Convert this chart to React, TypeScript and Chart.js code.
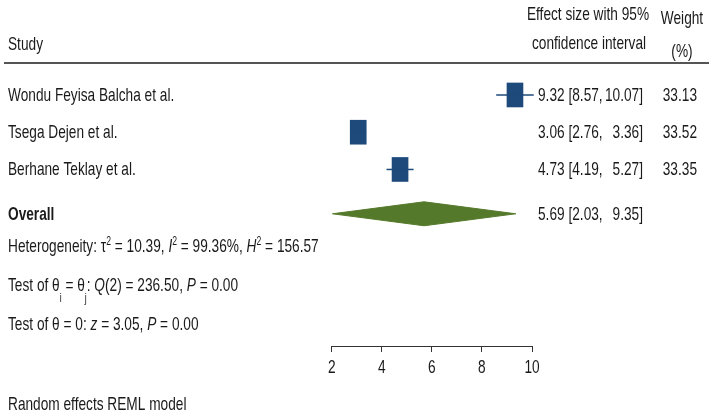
import { useEffect, useRef } from "react";
import { Chart, registerables } from "chart.js";

Chart.register(...registerables);

// ---- data ----
const studyLabels = ["Wondu Feyisa Balcha et al.", "Tsega Dejen et al.", "Berhane Teklay et al."];
const effectSizes = [9.32, 3.06, 4.73];
const ciLower = [8.57, 2.76, 4.19];
const ciUpper = [10.07, 3.36, 5.27];
const weights = [33.13, 33.52, 33.35];
const overallEffect = 5.69;
const overallLower = 2.03;
const overallUpper = 9.35;
const xTickValues = [2, 4, 6, 8, 10];
const studyRows = [1, 2, 3];
const overallRow = 4.19;

// ---- style ----
const FONT = '"Liberation Sans", Arial, sans-serif';
const FS = 19;
const SCALE_X = 0.72;
const TEXT = "#1a1a1a";
const NAVY = "#1d4a7a";
const GREEN = "#55792b";
const BOX_HALF = 0.322;
const DIAMOND_HALF = 0.322;

type Seg = { t: string; italic?: boolean; bold?: boolean; sup?: boolean; sub?: boolean };

function segFont(s: Seg) {
  const size = s.sup || s.sub ? 12 : FS;
  return `${s.italic ? "italic " : ""}${s.bold ? "bold " : ""}${size}px ${FONT}`;
}

function drawRich(ctx: CanvasRenderingContext2D, segs: Seg[], x: number, y: number, align = "left") {
  ctx.save();
  ctx.textBaseline = "alphabetic";
  ctx.textAlign = "left";
  ctx.fillStyle = TEXT;
  let total = 0;
  for (const s of segs) {
    ctx.font = segFont(s);
    total += ctx.measureText(s.t).width * SCALE_X;
  }
  let cx = align === "left" ? x : align === "right" ? x - total : x - total / 2;
  for (const s of segs) {
    ctx.font = segFont(s);
    const w = ctx.measureText(s.t).width;
    const dy = s.sup ? -7 : s.sub ? 11 : 0;
    ctx.save();
    ctx.translate(cx, y + dy);
    ctx.scale(SCALE_X, 1);
    ctx.fillText(s.t, 0, 0);
    ctx.restore();
    cx += w * SCALE_X;
  }
  ctx.restore();
}

const textPlugin = {
  id: "forestText",
  afterDraw(chart: any) {
    const ctx: CanvasRenderingContext2D = chart.ctx;
    const ys = chart.scales.y;
    const xs = chart.scales.x;
    // header
    drawRich(ctx, [{ t: "Study" }], 8, 50);
    drawRich(ctx, [{ t: "Effect size with 95%" }], 588, 20, "center");
    drawRich(ctx, [{ t: "confidence interval" }], 589, 49, "center");
    drawRich(ctx, [{ t: "Weight" }], 682, 24, "center");
    drawRich(ctx, [{ t: "(%)" }], 682, 57, "center");
    ctx.save();
    ctx.strokeStyle = "#555";
    ctx.lineWidth = 2;
    ctx.beginPath();
    ctx.moveTo(4, 63);
    ctx.lineTo(709, 63);
    ctx.stroke();
    ctx.restore();
    // studies
    studyLabels.forEach((lab, i) => {
      const y = ys.getPixelForValue(studyRows[i]) + 6;
      drawRich(ctx, [{ t: lab }], 8, y);
      drawRich(ctx, [{ t: `${effectSizes[i].toFixed(2)} [${ciLower[i].toFixed(2)},` }], 538, y);
      drawRich(ctx, [{ t: `${ciUpper[i].toFixed(2)}]` }], 643, y, "right");
      drawRich(ctx, [{ t: weights[i].toFixed(2) }], 697, y, "right");
    });
    const oy = ys.getPixelForValue(overallRow) + 6;
    drawRich(ctx, [{ t: "Overall", bold: true }], 8, oy);
    drawRich(ctx, [{ t: `${overallEffect.toFixed(2)} [${overallLower.toFixed(2)},` }], 538, oy);
    drawRich(ctx, [{ t: `${overallUpper.toFixed(2)}]` }], 643, oy, "right");
    // stats
    drawRich(
      ctx,
      [
        { t: "Heterogeneity: τ" },
        { t: "2", sup: true },
        { t: " = 10.39, " },
        { t: "I", italic: true },
        { t: "2", sup: true },
        { t: " = 99.36%, " },
        { t: "H", italic: true },
        { t: "2", sup: true },
        { t: " = 156.57" },
      ],
      8,
      252
    );
    drawRich(
      ctx,
      [
        { t: "Test of θ" },
        { t: "i", sub: true },
        { t: " = θ" },
        { t: "j", sub: true },
        { t: ": " },
        { t: "Q", italic: true },
        { t: "(2) = 236.50, " },
        { t: "P", italic: true },
        { t: " = 0.00" },
      ],
      8,
      291
    );
    drawRich(
      ctx,
      [{ t: "Test of θ = 0: " }, { t: "z", italic: true }, { t: " = 3.05, " }, { t: "P", italic: true }, { t: " = 0.00" }],
      8,
      330
    );
    drawRich(ctx, [{ t: "Random effects REML model" }], 8, 410);
    // x-axis tick labels (condensed), positioned by the library's scale
    xs.ticks.forEach((tk: any, i: number) => {
      drawRich(ctx, [{ t: String(tk.label ?? tk.value) }], xs.getPixelForTick(i), 373, "center");
    });
  },
};

export default function App() {
  const ref = useRef<HTMLCanvasElement | null>(null);
  useEffect(() => {
    document.body.style.margin = "0";
    const canvas = ref.current;
    if (!canvas) return;
    const datasets: any[] = [
      ...studyRows.map((r, i) => ({
        type: "line",
        data: [
          { x: ciLower[i], y: r },
          { x: ciUpper[i], y: r },
        ],
        borderColor: NAVY,
        borderWidth: 1.5,
        pointRadius: 0,
        fill: false,
        clip: false,
      })),
      {
        type: "bar",
        data: effectSizes.map((e, i) => ({ x: e, y: [studyRows[i] - BOX_HALF, studyRows[i] + BOX_HALF] })),
        backgroundColor: NAVY,
        borderWidth: 0,
        barThickness: 16,
        clip: false,
      },
      {
        type: "line",
        data: [
          { x: overallLower, y: overallRow },
          { x: overallEffect, y: overallRow - DIAMOND_HALF },
          { x: overallUpper, y: overallRow },
          { x: overallEffect, y: overallRow + DIAMOND_HALF },
          { x: overallLower, y: overallRow },
        ],
        borderColor: GREEN,
        backgroundColor: GREEN,
        borderWidth: 1,
        pointRadius: 0,
        fill: "shape",
        tension: 0,
        clip: false,
      },
    ];
    const chart = new Chart(canvas, {
      type: "scatter",
      data: { datasets },
      plugins: [textPlugin],
      options: {
        animation: false,
        responsive: false,
        maintainAspectRatio: false,
        devicePixelRatio: 1,
        layout: { padding: { left: 331.7, right: 177, top: 0, bottom: 0 } },
        plugins: { legend: { display: false }, tooltip: { enabled: false } },
        scales: {
          x: {
            type: "linear",
            min: 2,
            max: 10,
            offset: false,
            position: "bottom",
            afterBuildTicks: (s: any) => {
              s.ticks = xTickValues.map((v) => ({ value: v }));
            },
            afterFit: (s: any) => {
              s.height = 72;
            },
            grid: { offset: false, drawOnChartArea: false, drawTicks: true, tickLength: 6, color: "#333", lineWidth: 1 },
            border: { display: true, color: "#333", width: 1 },
            ticks: {
              color: "rgba(0,0,0,0)",
              padding: 3,
              font: { family: FONT, size: 19 },
              maxRotation: 0,
              autoSkip: false,
            },
          },
          y: { type: "linear", min: -1.55, max: 7.74, reverse: true, display: false },
        },
      } as any,
    });
    return () => chart.destroy();
  }, []);
  return <canvas ref={ref} width={709} height={418} style={{ display: "block", width: 709, height: 418 }} />;
}
